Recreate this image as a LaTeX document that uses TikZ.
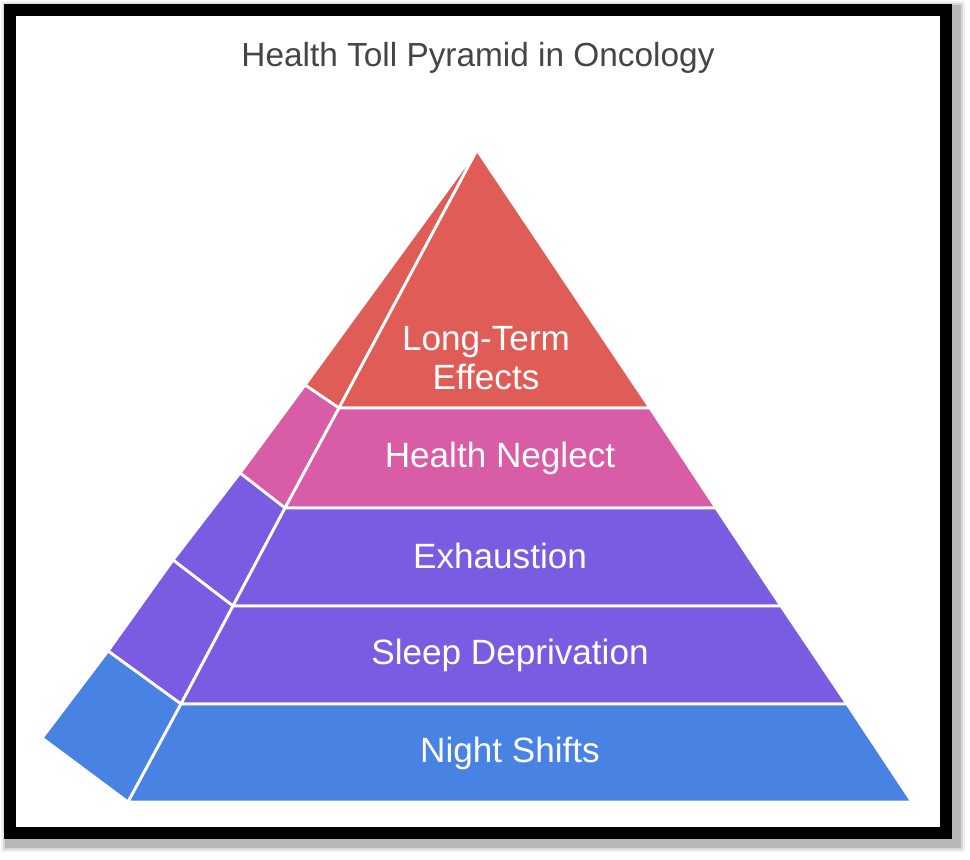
\documentclass[tikz,border=0pt]{standalone}
\usepackage{fontspec}
\setmainfont{Liberation Sans}
\definecolor{tollred}{HTML}{E05D57}
\definecolor{tollpink}{HTML}{D95CA6}
\definecolor{tollpurple}{HTML}{7A5CE2}
\definecolor{tollblue}{HTML}{4883E3}
\definecolor{titlegray}{HTML}{454545}
\tikzset{
  face/.style={draw=white, line width=1.6pt, line join=round},
  lvl/.style={white, font=\fontsize{20}{24}\selectfont, align=center}
}
\begin{document}
\begin{tikzpicture}[x=0.02cm, y=-0.02cm]
	\useasboundingbox (0,0) rectangle (970,859);
	% Shadow and frame
	\foreach \s/\o in {14/0.06, 10/0.1, 6/0.15}
		\draw[black, opacity=\o, line width=12*0.02cm+\s*0.02cm] (14,14) rectangle (952,839);
	\fill[white] (16,16) rectangle (940,827);
	\draw[black, line width=0.24cm] (10,10) rectangle (946,833);

	% Title
	\node[titlegray, font=\fontsize{19}{23}\selectfont] (title) at (478,58) {Health Toll Pyramid in Oncology};

	% Front edge points per level
	\coordinate (apex) at (477,150);
	\coordinate (back) at (467,163);
	% side faces
	\fill[tollred, face] (back) -- (305,385) -- (339,408) -- (apex) -- cycle;
	\fill[tollpink, face] (305,385) -- (240,473) -- (285,508) -- (339,408) -- cycle;
	\fill[tollpurple, face] (240,473) -- (173,560) -- (233,606) -- (285,508) -- cycle;
	\fill[tollpurple, face] (173,560) -- (108,651) -- (181,704) -- (233,606) -- cycle;
	\fill[tollblue, face] (108,651) -- (42,738) -- (128,802) -- (181,704) -- cycle;
	% front faces
	\fill[tollred, face] (apex) -- (650,408) -- (339,408) -- cycle;
	\fill[tollpink, face] (339,408) -- (650,408) -- (716,508) -- (285,508) -- cycle;
	\fill[tollpurple, face] (285,508) -- (716,508) -- (781,606) -- (233,606) -- cycle;
	\fill[tollpurple, face] (233,606) -- (781,606) -- (847,704) -- (181,704) -- cycle;
	\fill[tollblue, face] (181,704) -- (847,704) -- (912,802) -- (128,802) -- cycle;

	% Labels
	\node[lvl] (effects) at (486,358) {Long-Term\\[-2pt]Effects};
	\node[lvl] (neglect) at (500,458) {Health Neglect};
	\node[lvl] (exhaust) at (500,556) {Exhaustion};
	\node[lvl] (sleep) at (510,655) {Sleep Deprivation};
	\node[lvl] (night) at (510,753) {Night Shifts};
\end{tikzpicture}
\end{document}
